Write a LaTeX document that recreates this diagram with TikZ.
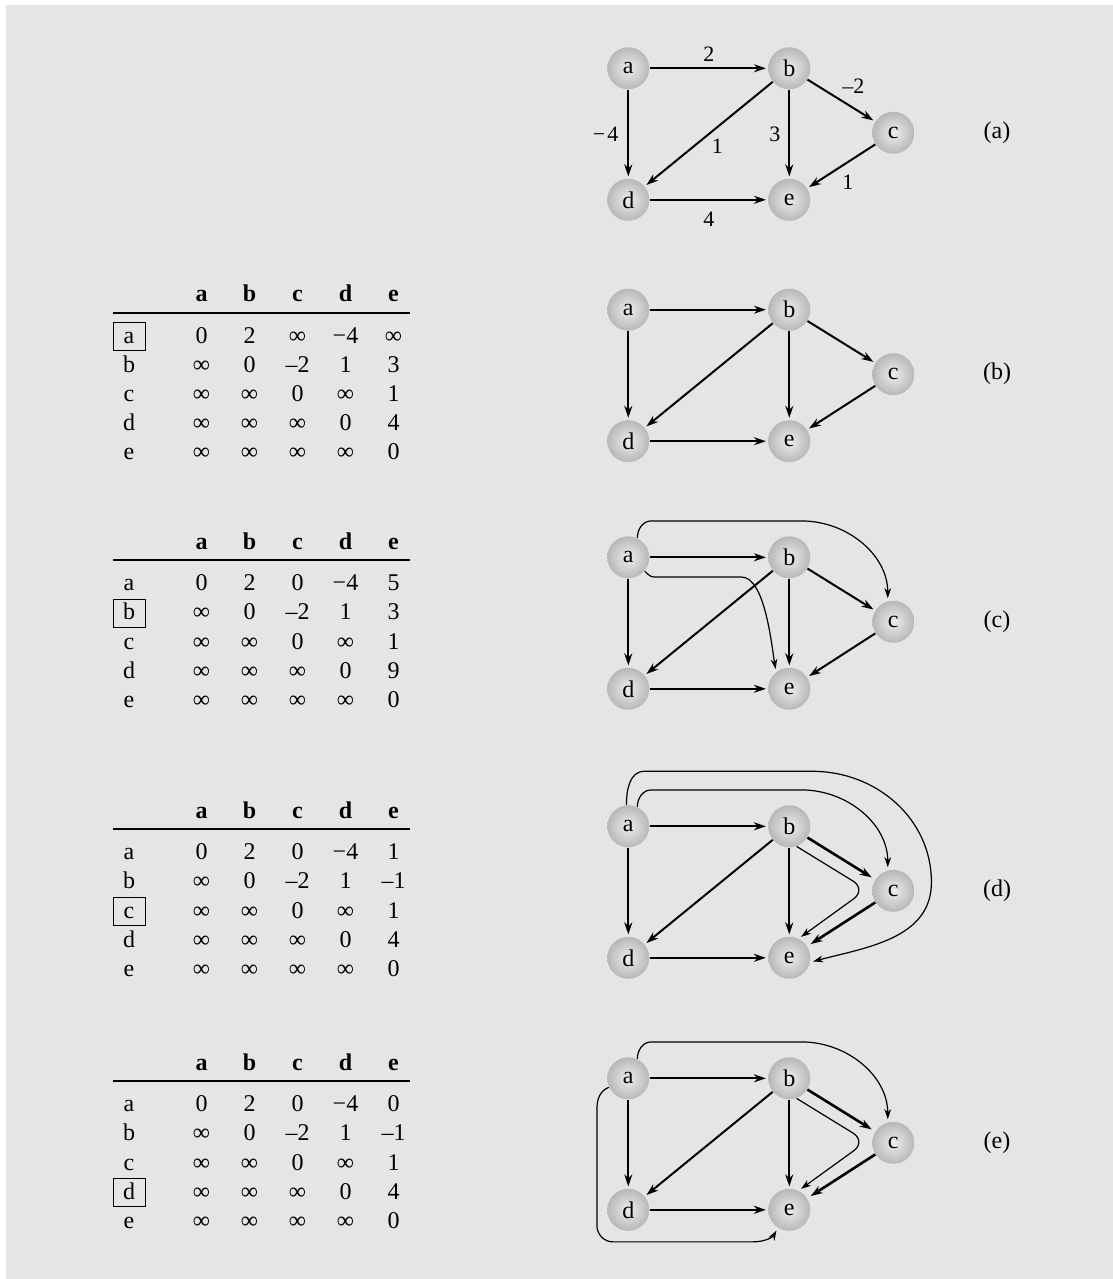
\documentclass[tikz,border=0pt]{standalone}
\usepackage{fontspec}
\setmainfont{Liberation Serif}
\usetikzlibrary{arrows.meta, positioning}

\newcommand\graphnodes{%
  \node[vtx] (a) at (628.3,0) {a};
  \node[vtx] (b) at (789.3,0) {b};
  \node[vtx] (c) at (893.3,-64.5) {c};
  \node[vtx] (d) at (628.3,-131.5) {d};
  \node[vtx] (e) at (789.3,-131.5) {e};
}
\newcommand\basegraph{%
  \graphnodes
  \draw[edge] (a) -- (b);
  \draw[edge] (a) -- (d);
  \draw[edge, hi] (b) -- (c);
  \draw[edge] (b) -- (d);
  \draw[edge] (b) -- (e);
  \draw[edge, hi] (c) -- (e);
  \draw[edge] (d) -- (e);
}
\newcommand\disttable[1]{%
  \foreach \h [count=\j] in {a,...,e}
    \node[hd] (h\h) at ({201.5+48*(\j-1)},8) {\h};
  \draw[line width=1.1pt] (113,-3) -- (410,-3);
  \foreach \r/\vals [count=\i] in {#1} {
    \node[rowlbl, row \r] (l\r) at (129,{-33.5-29.1*(\i-1)}) {\r};
    \foreach \v [count=\j] in \vals
      \node[val] (v\r\j) at ({201.5+48*(\j-1)},{-33.5-29.1*(\i-1)}) {\v};
  }
}

\begin{document}
\fontsize{12}{14}\selectfont
\begin{tikzpicture}[x=0.5pt, y=0.5pt,
    vtx/.style={circle, minimum size=21pt, inner sep=0pt, shading=radial, inner color=black!7, outer color=black!28},
    edge/.style={line width=1pt, -{Stealth[length=6pt, width=4pt]}, shorten >=1pt},
    hi/.style={},
    via/.style={line width=0.6pt, -{Stealth[length=5pt, width=3.4pt]}, shorten >=1.5pt},
    wt/.style={inner sep=1pt, font=\fontsize{11}{13}\selectfont},
    hd/.style={anchor=base, font=\bfseries},
    val/.style={anchor=base},
    rowlbl/.style={anchor=base, minimum width=16pt, minimum height=14.2pt, text height=6.5pt, text depth=0pt, inner sep=0pt, line width=0.5pt},
    row a/.style={}, row b/.style={}, row c/.style={}, row d/.style={}, row e/.style={}
]
\useasboundingbox (0,0) rectangle (1113,-1279);
\fill[black!10] (6,-5) rectangle (1113,-1279);

% (a) the weighted graph
\begin{scope}[shift={(0,-68.3)}]
  \graphnodes
  \draw[edge] (a) -- node[wt, above=2pt] {2} (b);
  \draw[edge] (a) -- node[wt, left=3.5pt] {−\kern1pt4} (d);
  \draw[edge] (b) -- node[wt, above right=2.25pt and -1pt] {–2} (c);
  \draw[edge] (b) -- node[wt, below right=1pt and 0pt] {1} (d);
  \draw[edge] (b) -- node[wt, left=3pt] {3} (e);
  \draw[edge] (c) -- node[wt, below right=3pt and -1pt] {1} (e);
  \draw[edge] (d) -- node[wt, below=4.5pt] {4} (e);
  \node (tagA) at (997,-64.5) {(a)};
\end{scope}

% (b)
\begin{scope}[shift={(0,-309.7)}, row a/.style={draw}]
  \disttable{a/{0,2,∞,−4,∞}, b/{∞,0,–2,1,3}, c/{∞,∞,0,∞,1}, d/{∞,∞,∞,0,4}, e/{∞,∞,∞,∞,0}}
  \basegraph
  \node (tagB) at (997,-64.5) {(b)};
\end{scope}

% (c)
\begin{scope}[shift={(0,-557.3)}, row b/.style={draw}]
  \disttable{a/{0,2,0,−4,5}, b/{∞,0,–2,1,3}, c/{∞,∞,0,∞,1}, d/{∞,∞,∞,0,9}, e/{∞,∞,∞,∞,0}}
  \basegraph
  \draw[via] (a.65) to[out=90,in=180] ++(14,17) -- ++(150,0) to[out=0,in=90] (c.105);
  \draw[via] (a.-40) to[out=-45,in=180] ++(10,-6) -- ++(87,0) to[out=0,in=100,looseness=0.6] (e.128);
  \node (tagC) at (997,-64.5) {(c)};
\end{scope}

% (d)
\begin{scope}[shift={(0,-826.3)}, row c/.style={draw}, hi/.style={line width=1.3pt, shorten >=2pt}]
  \disttable{a/{0,2,0,−4,1}, b/{∞,0,–2,1,–1}, c/{∞,∞,0,∞,1}, d/{∞,∞,∞,0,4}, e/{∞,∞,∞,∞,0}}
  \basegraph
  \draw[via] (a.65) to[out=90,in=180] ++(14,17) -- ++(150,0) to[out=0,in=90] (c.105);
  \draw[via] (a.95) to[out=90,in=180] ++(18,33.7) -- ++(168,0) to[out=0,in=90] ++(119,-111) to[out=-90,in=15] (e.-12);
  \draw[via, rounded corners=8pt] (b.-70) -- ++(70,-43) -- (e.64);
  \node (tagD) at (997,-64.5) {(d)};
\end{scope}

% (e)
\begin{scope}[shift={(0,-1078.3)}, row d/.style={draw}, hi/.style={line width=1.3pt, shorten >=2pt}]
  \disttable{a/{0,2,0,−4,0}, b/{∞,0,–2,1,–1}, c/{∞,∞,0,∞,1}, d/{∞,∞,∞,0,4}, e/{∞,∞,∞,∞,0}}
  \basegraph
  \draw[via] (a.65) to[out=90,in=180] ++(14,17) -- ++(150,0) to[out=0,in=90] (c.105);
  \draw[via, rounded corners=8pt] (b.-70) -- ++(70,-43) -- (e.64);
  \draw[via] (a.205) to[out=200,in=90] ++(-12,-22) -- ++(0,-116) to[out=-90,in=180] ++(16,-16.5) -- ++(140,0) to[out=0,in=-120] (e.238);
  \node (tagE) at (997,-64.5) {(e)};
\end{scope}
\end{tikzpicture}
\end{document}
